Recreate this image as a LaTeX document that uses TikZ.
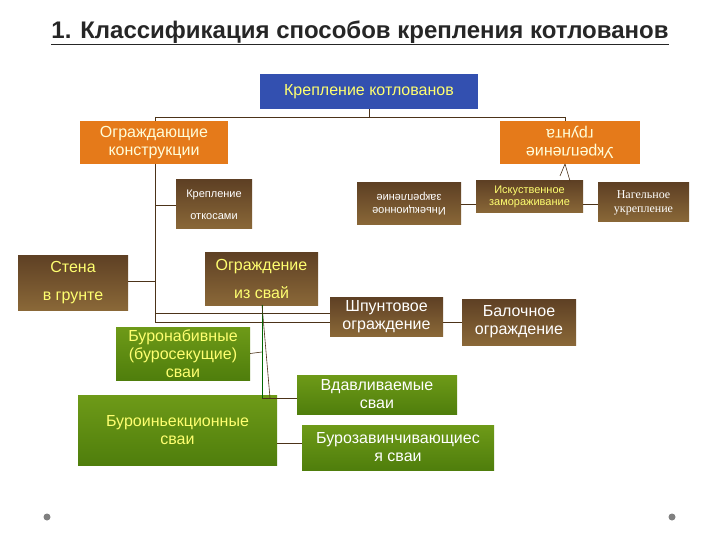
\documentclass[tikz,border=0pt]{standalone}
\usepackage{fontspec}
\setmainfont{Liberation Sans}
\newfontfamily\serifnag{Liberation Serif}
\definecolor{bA}{HTML}{5E4024}
\definecolor{bB}{HTML}{8A6838}
\definecolor{gA}{HTML}{6E9A18}
\definecolor{gB}{HTML}{4F7E0C}
\definecolor{orA}{HTML}{E57A1A}
\definecolor{blA}{HTML}{3350B0}
\definecolor{ylw}{HTML}{FFFF70}
\begin{document}
\begin{tikzpicture}[x=1pt,y=-1pt,
  bx/.style={draw=none,inner sep=1pt,align=center,font=\fontsize{16}{18}\selectfont,text=ylw},
  brown/.style={bx,shade,top color=bA,bottom color=bB},
  orng/.style={bx,fill=orA,text=white!85!yellow},
  grn/.style={bx,shade,top color=gA,bottom color=gB},
  ln/.style={draw=brown!40!black,line width=0.6pt},
  gln/.style={draw=green!40!black,line width=0.8pt}]
\useasboundingbox (0,0) rectangle (720,540);
\fill[white] (0,0) rectangle (720,540);
\node[font=\bfseries\fontsize{24}{26}\selectfont,text=black!85] (title) at (360,33) {\underline{1. Классификация способов крепления котлованов}};
\node[bx,fill=blA,minimum width=218,minimum height=35] (top) at (369,91.5) {Крепление котлованов};
\node[orng,minimum width=148,minimum height=43] (ogr) at (154,142.5) {Ограждающие\\конструкции};
\node[orng,minimum width=140,minimum height=43,rotate=180] (ukr) at (570,142.5) {Укрепление\\грунта};
\node[brown,minimum width=76,minimum height=49,text=white,font=\fontsize{11}{22}\selectfont] (otk) at (214,204.5) {Крепление\\откосами};
\node[brown,minimum width=104,minimum height=42,text=white,font=\fontsize{11}{13}\selectfont,rotate=180] (inj) at (409,204) {Иньекционное\\закрепление};
\node[brown,minimum width=107,minimum height=32,font=\fontsize{11}{12}\selectfont] (zam) at (529.5,197) {Искуственное\\замораживание};
\node[brown,minimum width=91,minimum height=39,text=white,font=\serifnag\fontsize{12}{14}\selectfont] (nag) at (643.5,202.5) {Нагельное\\укрепление};
\node[brown,minimum width=110,minimum height=55,font=\fontsize{16}{28}\selectfont] (stena) at (73,282.5) {Стена\\в грунте};
\node[brown,minimum width=113,minimum height=53,font=\fontsize{16}{28}\selectfont] (svai) at (261.5,278.5) {Ограждение\\из свай};
\node[brown,minimum width=113,minimum height=39,text=white] (shp) at (386.5,316.5) {Шпунтовое\\ограждение};
\node[brown,minimum width=114,minimum height=46,text=white] (bal) at (519,322) {Балочное\\ограждение};
\node[grn,minimum width=134,minimum height=53] (bnab) at (183,353.5) {Буронабивные\\(буросекущие)\\сваи};
\node[grn,minimum width=199,minimum height=70] (binj) at (177.5,430) {Буроиньекционные\\сваи};
\node[grn,minimum width=160,minimum height=39,text=white] (vdav) at (377,394.5) {Вдавливаемые\\сваи};
\node[grn,minimum width=192,minimum height=45,text=white] (bzav) at (398,447.5) {Бурозавинчивающиес\\я сваи};
\coordinate (j) at (369,117);
\draw[ln] (top.south) -- (j);
\draw[ln] (155,117) -- (565,117);
\draw[ln] (155,117) -- (155,121);
\draw[ln] (565,117) -- (565,121);
\draw[ln] (155,164) -- (155,322);
\draw[ln] (155,205) -- (otk.west |- 155,205);
\draw[ln] (stena.east |- 155,281) -- (155,281);
\draw[ln] (155,313) -- (330,313);
\draw[ln] (155,322) -- (shp.west |- 155,322);
\draw[ln] (inj.west) -- (zam.west |- inj.west);
\draw[ln] (zam.east |- inj.west) -- (nag.west |- inj.west);
\draw[ln] (shp.east |- 155,322) -- (bal.west |- 155,322);
\draw[ln] (565,164) -- (570,181);
\draw[ln] (565,164) -- (560,176);
\draw[gln] (262,305) -- (262,398);
\draw[ln] (262,305) -- (270,398);
\draw[ln] (bnab.east) -- (262,352);
\draw[ln] (262,398) -- (vdav.west |- 262,398);
\draw[ln] (277,443) -- (bzav.west |- 277,443);
\fill[gray] (47,517) circle (3.5);
\fill[gray] (672,517) circle (3.5);
\end{tikzpicture}
\end{document}
